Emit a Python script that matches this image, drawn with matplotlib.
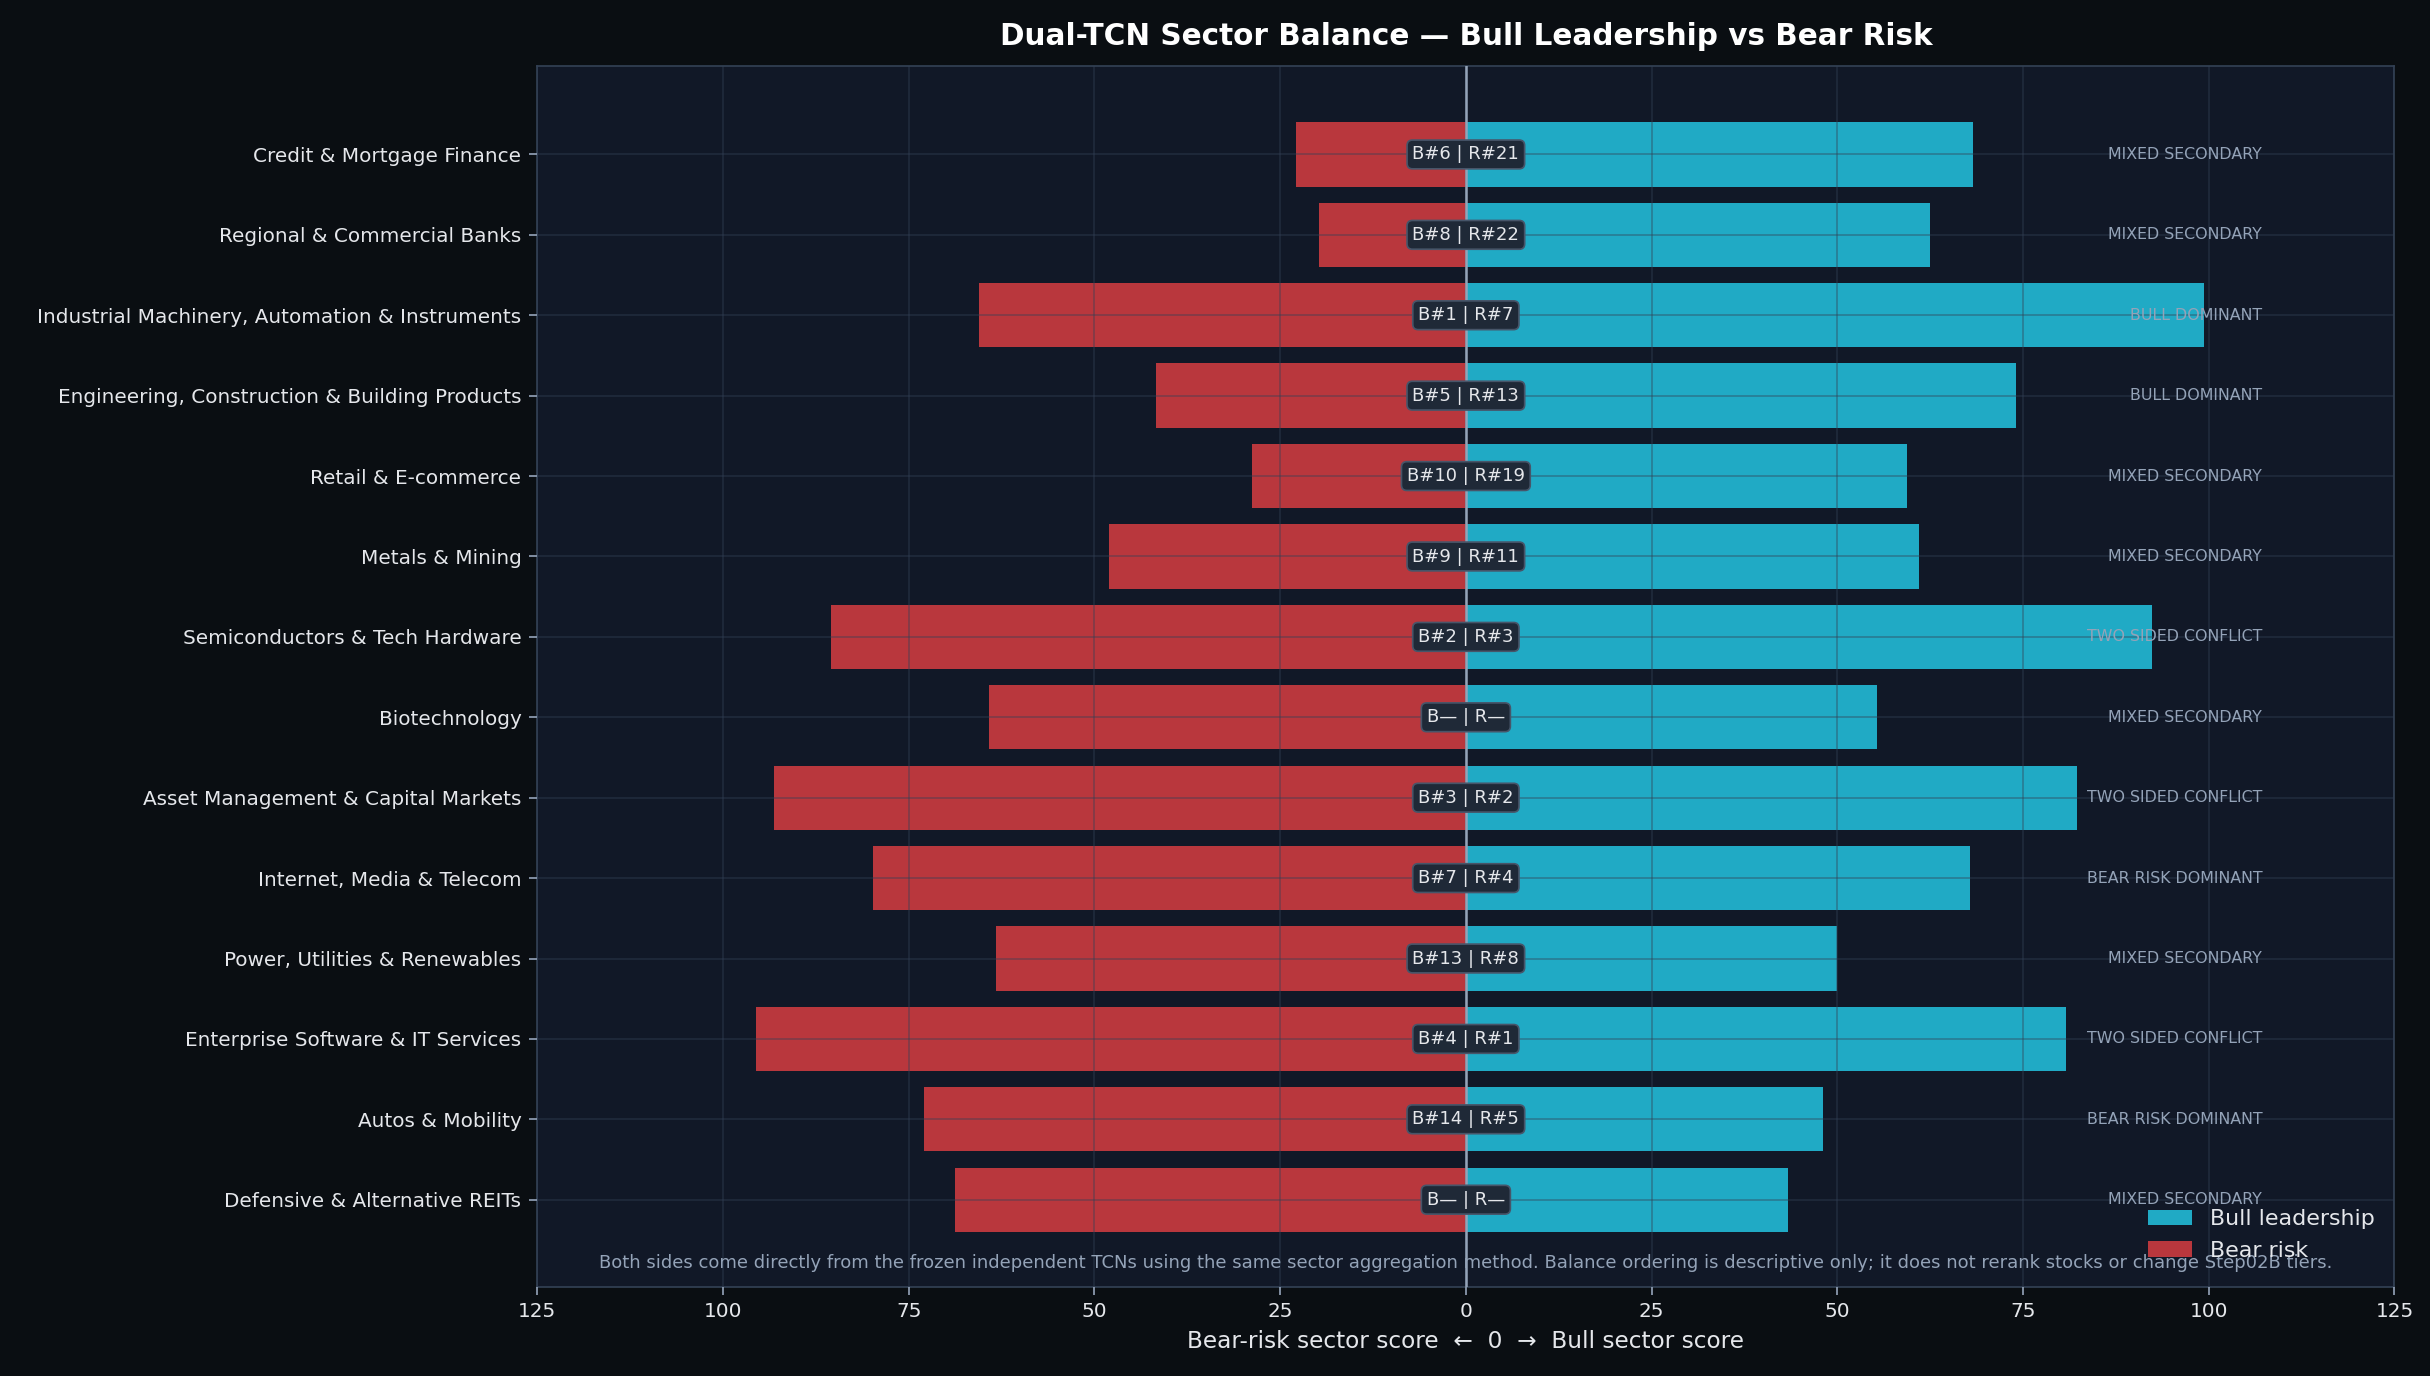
import matplotlib
matplotlib.use("Agg")
import matplotlib.pyplot as plt
import numpy as np

sectors = ["Credit & Mortgage Finance", "Regional & Commercial Banks",
           "Industrial Machinery, Automation & Instruments",
           "Engineering, Construction & Building Products", "Retail & E-commerce",
           "Metals & Mining", "Semiconductors & Tech Hardware", "Biotechnology",
           "Asset Management & Capital Markets", "Internet, Media & Telecom",
           "Power, Utilities & Renewables", "Enterprise Software & IT Services",
           "Autos & Mobility", "Defensive & Alternative REITs"]
bull = [68.3, 62.5, 99.4, 74.0, 59.4, 61.0, 92.3, 55.4, 82.3, 67.9, 50.0, 80.8, 48.1, 43.3]
bear = [22.9, 19.8, 65.6, 41.7, 28.8, 48.1, 85.4, 64.2, 93.1, 79.8, 63.3, 95.6, 72.9, 68.75]
ranks = ["B#6 | R#21", "B#8 | R#22", "B#1 | R#7", "B#5 | R#13", "B#10 | R#19", "B#9 | R#11",
         "B#2 | R#3", "B— | R—", "B#3 | R#2", "B#7 | R#4", "B#13 | R#8", "B#4 | R#1",
         "B#14 | R#5", "B— | R—"]
tiers = ["MIXED SECONDARY", "MIXED SECONDARY", "BULL DOMINANT", "BULL DOMINANT",
         "MIXED SECONDARY", "MIXED SECONDARY", "TWO SIDED CONFLICT", "MIXED SECONDARY",
         "TWO SIDED CONFLICT", "BEAR RISK DOMINANT", "MIXED SECONDARY", "TWO SIDED CONFLICT",
         "BEAR RISK DOMINANT", "MIXED SECONDARY"]

fig = plt.figure(figsize=(15.993, 9.053), dpi=152, facecolor="#0a0e12")
ax = fig.add_axes([0.221, 0.065, 0.764, 0.887], facecolor="#111827")
y = np.arange(len(sectors))
ax.barh(y, bull, height=0.8, color="#22b8d4", alpha=0.92, label="Bull leadership", zorder=2)
ax.barh(y, [-b for b in bear], height=0.8, color="#c93a3f", alpha=0.92, label="Bear risk", zorder=2)
ax.axvline(0, color="#94a3b8", lw=1.2, zorder=4)
for i in y:
    ax.text(0, i, ranks[i], ha="center", va="center", fontsize=8.5, color="#e5e7eb", zorder=5,
            bbox=dict(boxstyle="round,pad=0.3", fc="#1f2937", ec="#475569", lw=0.8))
    ax.text(107.2, i, tiers[i], ha="right", va="center", fontsize=7.5, color="#94a3b8", zorder=5)
ax.set_yticks(y)
ax.set_yticklabels(sectors, fontsize=9.5)
ax.set_ylim(len(sectors) - 1 + 1.08, -1.1)
ax.set_xlim(-125, 125)
ticks = [-125, -100, -75, -50, -25, 0, 25, 50, 75, 100, 125]
ax.set_xticks(ticks)
ax.set_xticklabels([str(abs(t)) for t in ticks], fontsize=9.5)
ax.tick_params(colors="#94a3b8", labelcolor="#e5e7eb", length=4)
ax.grid(True, color="#334155", alpha=0.45, lw=0.8, zorder=3)
ax.set_axisbelow(False)
for s in ax.spines.values():
    s.set_color("#334155")
ax.set_xlabel("Bear-risk sector score  ←  0  →  Bull sector score", color="#e5e7eb", fontsize=11)
ax.set_title("Dual-TCN Sector Balance — Bull Leadership vs Bear Risk", color="white",
             fontsize=14, fontweight="bold", pad=10)
ax.text(0.5, 0.012, "Both sides come directly from the frozen independent TCNs using the same sector aggregation method. "
        "Balance ordering is descriptive only; it does not rerank stocks or change Step02B tiers.",
        transform=ax.transAxes, ha="center", va="bottom", fontsize=8.5, color="#94a3b8")
leg = ax.legend(loc="lower right", frameon=False, fontsize=10.5, labelcolor="#e5e7eb",
                bbox_to_anchor=(1.0, 0.005))
fig.savefig("out.png", dpi=152, facecolor=fig.get_facecolor())
